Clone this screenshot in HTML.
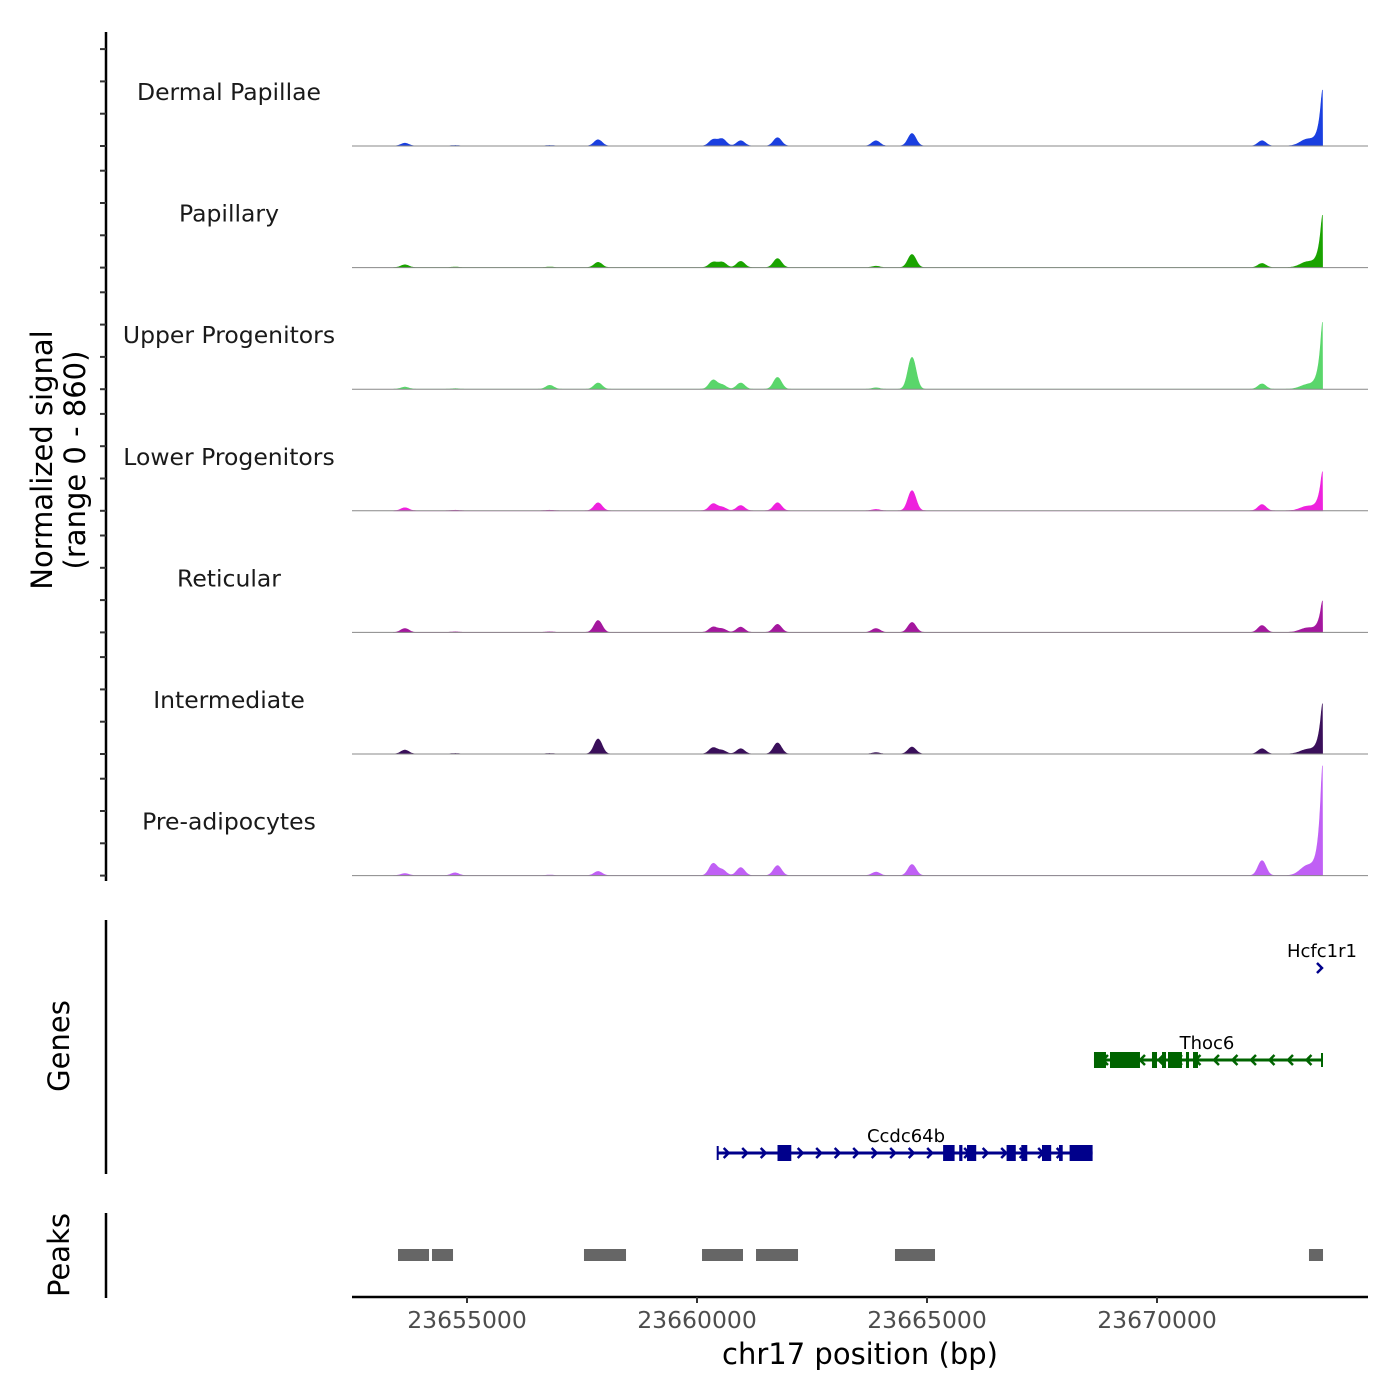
<!DOCTYPE html>
<html><head><meta charset="utf-8"><style>body{margin:0;background:#fff}svg{display:block}text{font-family:"DejaVu Sans","Liberation Sans",sans-serif}</style></head>
<body>
<svg id="chart" width="1400" height="1400" viewBox="0 0 1400 1400" xmlns="http://www.w3.org/2000/svg">
<rect width="1400" height="1400" fill="#fff"/>
<g id="tracks"></g>
<line x1="106" y1="32" x2="106" y2="881" stroke="#000" stroke-width="2.5"/>
<g id="yticks"></g>
<text transform="translate(52,460) rotate(-90)" text-anchor="middle" font-size="29">Normalized signal</text>
<text transform="translate(85,460) rotate(-90)" text-anchor="middle" font-size="29">(range 0 - 860)</text>
<line x1="106" y1="920" x2="106" y2="1174" stroke="#000" stroke-width="2.5"/>
<text transform="translate(69,1046) rotate(-90)" text-anchor="middle" font-size="29">Genes</text>
<line x1="106" y1="1213" x2="106" y2="1298" stroke="#000" stroke-width="2.5"/>
<text transform="translate(69,1255) rotate(-90)" text-anchor="middle" font-size="29">Peaks</text>
<g id="genes"></g>
<g id="peaks"></g>
<line x1="352" y1="1297" x2="1368" y2="1297" stroke="#000" stroke-width="2.5"/>
<g id="xticks"></g>
<text x="860" y="1364" text-anchor="middle" font-size="29">chr17 position (bp)</text>
</svg>
<script>
const trackNames=["Dermal Papillae","Papillary","Upper Progenitors","Lower Progenitors","Reticular","Intermediate","Pre-adipocytes"];
const trackColors=["#1a3fe0","#1aa300","#5ad66b","#ee22dd","#a4179e","#3a0f5a","#c060f5"];
const peakPos=[23653650,23654740,23656800,23657850,23660350,23660550,23660950,23661750,23663890,23664674,23672283,23673260,23673587];
// signal heights (scale 0-860) per track at each peak position
const sigDP=[20,4,4,45,45,50,38,60,38,90,38,45,400];
const sigPap=[20,4,4,38,38,38,45,65,10,95,30,38,375];
const sigUp=[15,4,28,45,65,30,45,85,10,230,38,30,480];
const sigLow=[22,4,4,58,50,25,38,58,10,145,45,30,280];
const sigRet=[28,4,4,86,38,25,38,58,28,72,50,30,225];
const sigInt=[28,4,4,108,45,25,38,80,10,50,38,30,360];
const sigPre=[15,20,4,30,86,40,58,72,25,80,108,65,785];
const signals=[sigDP,sigPap,sigUp,sigLow,sigRet,sigInt,sigPre];
const xTicks=[23655000,23660000,23665000,23670000];
const genes=[
 {name:"Hcfc1r1",start:23673543,end:23673543,strand:1,color:"#00008b",row:0,exons:[]},
 {name:"Thoc6",start:23668630,end:23673587,strand:-1,color:"#006400",row:1,exons:[[23668630,23668891],[23668978,23669630],[23669891,23670000],[23670109,23670196],[23670239,23670543],[23670630,23670696],[23670783,23670891]]},
 {name:"Ccdc64b",start:23660450,end:23668600,strand:1,color:"#00008b",row:2,exons:[[23661750,23662050],[23665350,23665600],[23665700,23665770],[23665870,23666070],[23666730,23666930],[23667050,23667180],[23667500,23667700],[23667870,23667950],[23668100,23668600]]}
];
const peakRegions=[[23653500,23654174],[23654239,23654696],[23657543,23658457],[23660109,23661000],[23661283,23662196],[23664304,23665174],[23673304,23673609]];

const NS="http://www.w3.org/2000/svg";
const X0=352,BP0=23652500,PXBP=0.046;
const xs=bp=>X0+(bp-BP0)*PXBP;
const base0=146,trackH=121.6,hScale=0.139;
function mk(tag,attrs,parent){const e=document.createElementNS(NS,tag);for(const k in attrs)e.setAttribute(k,attrs[k]);parent.appendChild(e);return e;}
const gT=document.getElementById('tracks');
const last=peakPos.length-1;
signals.forEach((sig,t)=>{
  const base=base0+t*trackH;
  const g=mk('g',{},gT);
  
  
  const lbl=mk('text',{x:229,y:base-46,'text-anchor':'middle','font-size':23.5,fill:'#1a1a1a'},g);
  lbl.textContent=trackNames[t];
  
  
  let d='M'+xs(23653400)+','+base;
  for(let px=xs(23653400);px<=xs(23673600);px+=1){
    let v=0;
    peakPos.forEach((p,i)=>{
      const c=xs(p);const dx=px-c;
      if(i===last){
        if(dx<=0.5){v+=sig[i]*Math.exp(Math.min(dx,0)/3.5)}
      } else {
        const w=(i===last-1)?7:4;v+=sig[i]*Math.exp(-dx*dx/(2*w*w));
      }
    });
    const y=base-Math.min(v,860)*hScale;
    d+=' L'+px.toFixed(1)+','+y.toFixed(1);
  }
  d+=' L'+xs(23673600)+','+base+' Z';
  const a=mk('path',{d:d,fill:trackColors[t],stroke:trackColors[t],'stroke-width':0.6},g);
  
  
  const bl=mk('line',{x1:352,y1:base,x2:1368,y2:base,stroke:'#888','stroke-width':1},g);
  
  
  const gy=document.getElementById('yticks');
  for(let k=0;k<4;k++){
    const tk=mk('line',{x1:100,x2:106,y1:base-k*32.3,y2:base-k*32.3,stroke:'#333','stroke-width':2},gy);
    
    
  }
});
// genes
const gG=document.getElementById('genes');
const rowY=[968,1060,1153];
genes.forEach(gn=>{
  const y=rowY[gn.row];
  const g=mk('g',{},gG);
  
  
  const x1=xs(gn.start),x2=xs(gn.end);
  const lbl=mk('text',{x:gn.row===0?1322:(gn.row===1?1207:906),y:y-11,'text-anchor':'middle','font-size':18,fill:'#000'},g);
  lbl.textContent=gn.name;
  
  
  if(gn.row===0){
    mk('path',{d:`M${x1-3},${y-5} L${x1+2},${y} L${x1-3},${y+5}`,fill:'none',stroke:gn.color,'stroke-width':2.5},g);
    return;
  }
  mk('line',{x1:x1,x2:x2,y1:y,y2:y,stroke:gn.color,'stroke-width':3},g);
  mk('line',{x1:gn.strand>0?x1:x2,x2:gn.strand>0?x1:x2,y1:y-7,y2:y+7,stroke:gn.color,'stroke-width':2},g);
  for(let px=x1+10;px<x2-3;px+=18.5){
    const s=gn.strand;
    mk('path',{d:`M${px-4*s},${y-5} L${px+1*s},${y} L${px-4*s},${y+5}`,fill:'none',stroke:gn.color,'stroke-width':2.5},g);
  }
  gn.exons.forEach(e=>{
    const r=mk('rect',{x:xs(e[0]),y:y-8,width:Math.max(2.5,xs(e[1])-xs(e[0])),height:16,fill:gn.color},g);
    
    
  });
});
// peaks
const gP=document.getElementById('peaks');
peakRegions.forEach(p=>{
  const r=mk('rect',{x:xs(p[0]),y:1249,width:xs(p[1])-xs(p[0]),height:12,fill:'#666'},gP);
  
  
});
// x ticks
const gX=document.getElementById('xticks');
xTicks.forEach(v=>{
  const x=xs(v);
  const l=mk('line',{x1:x,x2:x,y1:1297,y2:1303,stroke:'#333','stroke-width':2},gX);
  
  
  const t=mk('text',{x:x,y:1328,'text-anchor':'middle','font-size':23.5,fill:'#4d4d4d'},gX);
  t.textContent=v;
  
  
});
</script>
</body></html>
